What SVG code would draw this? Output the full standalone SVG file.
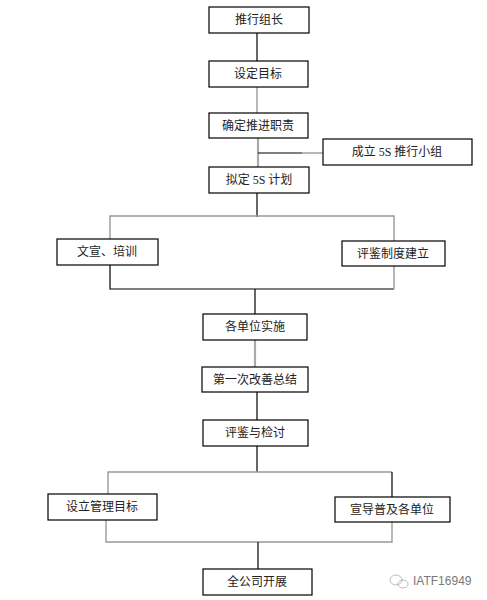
<svg xmlns="http://www.w3.org/2000/svg" width="487" height="600" viewBox="0 0 487 600">
<style>
.box{fill:#fff;stroke:#000;stroke-width:1.2}
.t{font-family:"Liberation Serif","Noto Sans CJK SC",sans-serif;font-size:12px;fill:#222;text-anchor:middle;dominant-baseline:central}
.k{stroke:#000;stroke-width:1.2;fill:none}
.g{stroke:#999;stroke-width:1.4;fill:none}
.g2{stroke:#aaa;stroke-width:2.2;fill:none}
</style>
<rect width="487" height="600" fill="#fff"/>
<g id="connectors">
<line class="k" x1="257" y1="33" x2="257" y2="61"/>
<line class="g" x1="257" y1="87" x2="257" y2="113"/>
<line class="g2" x1="258" y1="138" x2="258" y2="167"/>
<line class="k" x1="258" y1="153" x2="302" y2="153"/>
<line class="g" x1="302" y1="153" x2="323" y2="153"/>
<line class="k" x1="257" y1="193" x2="257" y2="217"/>
<polyline class="g" points="110,240 110,216 394,216 394,241"/>
<polyline class="k" points="110,265 110,289 394,289"/>
<line class="g" x1="394" y1="266" x2="394" y2="289"/>
<line class="k" x1="255" y1="289" x2="255" y2="314"/>
<line class="g2" x1="255" y1="340" x2="255" y2="367"/>
<line class="k" x1="257" y1="392" x2="257" y2="420"/>
<line class="k" x1="257" y1="446" x2="257" y2="472"/>
<polyline class="g" points="108,494 108,472 392,472"/>
<line class="k" x1="392" y1="472" x2="392" y2="497"/>
<polyline class="g" points="106,520 106,542 392,542 392,522"/>
<line class="k" x1="258" y1="542" x2="258" y2="569"/>
</g>
<g id="n1"><rect class="box" x="209" y="7" width="100" height="26"/><text class="t" x="259" y="20">推行组长</text></g>
<g id="n2"><rect class="box" x="209" y="61" width="99" height="26"/><text class="t" x="258" y="74">设定目标</text></g>
<g id="n3"><rect class="box" x="209" y="113" width="99" height="25"/><text class="t" x="258" y="125.5">确定推进职责</text></g>
<g id="n4"><rect class="box" x="323" y="139" width="149" height="26"/><text class="t" x="397" y="152">成立 5S 推行小组</text></g>
<g id="n5"><rect class="box" x="209" y="167" width="100" height="26"/><text class="t" x="259" y="180">拟定 5S 计划</text></g>
<g id="n6"><rect class="box" x="57" y="239" width="101" height="26"/><text class="t" x="107" y="252">文宣、培训</text></g>
<g id="n7"><rect class="box" x="342" y="241" width="103" height="25"/><text class="t" x="393" y="253.5">评鉴制度建立</text></g>
<g id="n8"><rect class="box" x="203" y="314" width="104" height="26"/><text class="t" x="255" y="327">各单位实施</text></g>
<g id="n9"><rect class="box" x="202" y="367" width="106" height="25"/><text class="t" x="255" y="379.5">第一次改善总结</text></g>
<g id="n10"><rect class="box" x="203" y="420" width="105" height="26"/><text class="t" x="255" y="433">评鉴与检讨</text></g>
<g id="n11"><rect class="box" x="48" y="494" width="109" height="26"/><text class="t" x="102" y="507">设立管理目标</text></g>
<g id="n12"><rect class="box" x="335" y="497" width="115" height="25"/><text class="t" x="392" y="509.5">宣导普及各单位</text></g>
<g id="n13"><rect class="box" x="203" y="569" width="109" height="26"/><text class="t" x="257" y="582">全公司开展</text></g>
<g id="watermark">
<ellipse cx="396" cy="580" rx="6" ry="5" fill="none" stroke="#bbb" stroke-width="1"/>
<ellipse cx="403" cy="584" rx="5" ry="4" fill="none" stroke="#bbb" stroke-width="1"/>
<text x="413" y="585" font-family="Liberation Sans, sans-serif" font-size="12" fill="#777">IATF16949</text>
</g>
</svg>
